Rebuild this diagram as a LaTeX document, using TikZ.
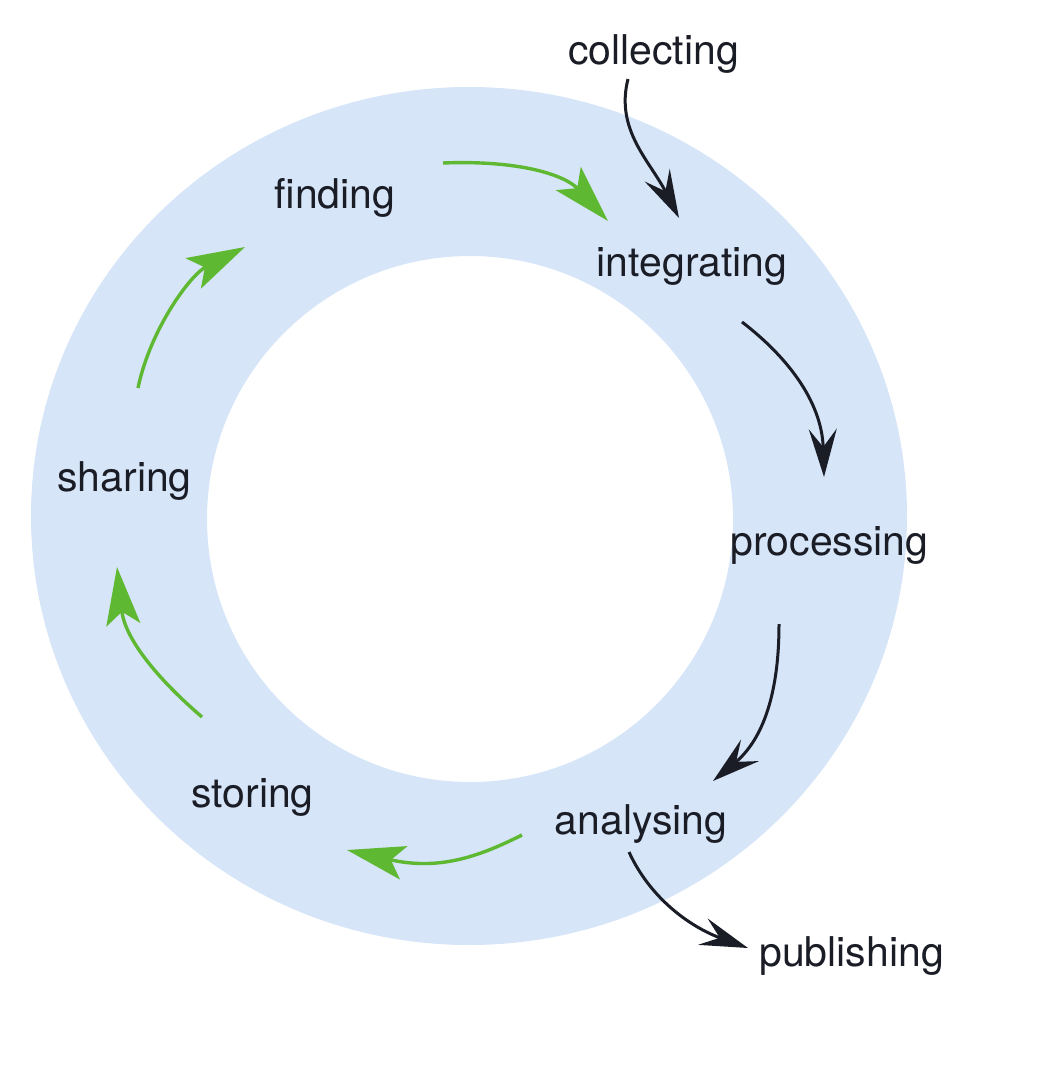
\documentclass[tikz,border=0pt]{standalone}
\usepackage{fontspec}
\setmainfont{TeX Gyre Heros}
\usepackage{tikz}
\usetikzlibrary{arrows.meta}

\definecolor{ringblue}{RGB}{214,229,248}
\definecolor{cyclegreen}{RGB}{94,184,50}
\definecolor{inkdark}{RGB}{26,28,38}

\begin{document}
\begin{tikzpicture}[x=0.5pt, y=-0.5pt,
  lbl/.style={anchor=base, inner sep=0pt, text=inkdark, font=\fontsize{20.5}{24}\selectfont},
  grn/.style={cyclegreen, line width=1.7pt, -{Stealth[length=29pt, width=17pt, inset=6.5pt]}},
  blk/.style={inkdark, line width=1.5pt, -{Stealth[length=24pt, width=14pt, inset=9pt]}}]

\useasboundingbox (0,0) rectangle (1040,1076);

\fill[ringblue, even odd rule] (469,516) ellipse [x radius=438, y radius=429]
  (470,519) circle [radius=263];

\node[lbl] (collecting) at (653.5,64) {collecting};
\node[lbl] (finding) at (335,208) {finding};
\node[lbl] (integrating) at (692,276) {integrating};
\node[lbl] (processing) at (829.5,555) {processing};
\node[lbl] (sharing) at (124.5,491) {sharing};
\node[lbl] (storing) at (252.5,807) {storing};
\node[lbl] (analysing) at (641,834) {analysing};
\node[lbl] (publishing) at (851.5,966) {publishing};

\begin{scope}[grn]
\draw ([shift={(108,-45)}]finding.base) .. controls +(77,-3) and +(-43,-46) .. ([shift={(-84,-55)}]integrating.base);
\draw ([shift={(13.5,-103)}]sharing.base) .. controls +(12,-58) and +(-55,28) .. ([shift={(-90,39)}]finding.base);
\draw ([shift={(-50.5,-90)}]storing.base) .. controls +(-42,-36) and +(8,73) .. ([shift={(-7.5,76)}]sharing.base);
\draw ([shift={(-119,1)}]analysing.base) .. controls +(-42,21) and +(93,21) .. ([shift={(94.5,43)}]storing.base);
\end{scope}

\begin{scope}[blk]
\draw ([shift={(-25.5,15)}]collecting.base) .. controls +(-13,51) and +(-29,-57) .. ([shift={(-13,-58)}]integrating.base);
\draw ([shift={(50,46)}]integrating.base) .. controls +(43,33) and +(-2,-77) .. ([shift={(-5.5,-78)}]processing.base);
\draw ([shift={(-50.5,69)}]processing.base) .. controls +(0,76) and +(47,-39) .. ([shift={(72,-53)}]analysing.base);
\draw ([shift={(-12,18)}]analysing.base) .. controls +(21,46) and +(-58,-21) .. ([shift={(-103.5,-18)}]publishing.base);
\end{scope}

\end{tikzpicture}
\end{document}
